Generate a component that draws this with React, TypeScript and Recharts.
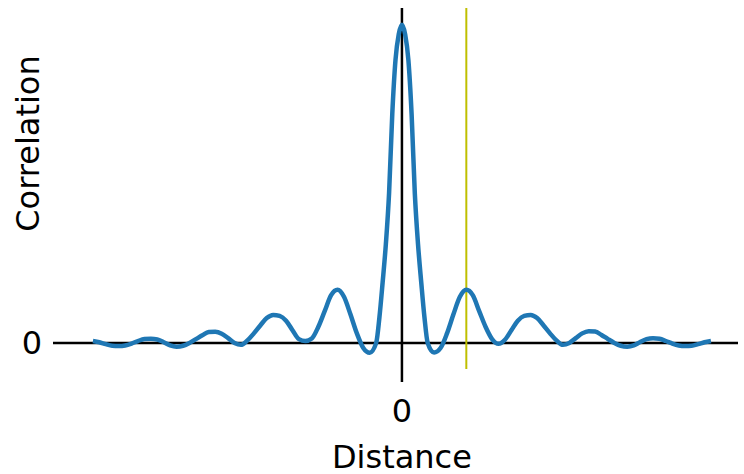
import { LineChart, Line, XAxis, YAxis, ReferenceLine } from "recharts";

// distance from the centre, in samples
const distance = [
  -48, -47, -46, -45, -44, -43, -42, -41, -40, -39, -38, -37, -36, -35, -34, -33,
  -32, -31, -30, -29, -28, -27, -26, -25, -24, -23, -22, -21, -20, -19, -18, -17,
  -16, -15, -14, -13, -12, -11, -10, -9, -8, -7, -6, -5, -4, -3.5, -3, -2.5, -2,
  -1.5, -1, -0.5, 0, 0.5, 1, 1.5, 2, 2.5, 3, 3.5, 4, 5, 6, 7, 8, 9, 10, 11, 12, 13,
  14, 15, 16, 17, 18, 19, 20, 21, 22, 23, 24, 25, 26, 27, 28, 29, 30, 31, 32, 33,
  34, 35, 36, 37, 38, 39, 40, 41, 42, 43, 44, 45, 46, 47, 48,
];

const correlation = [
  0.006, 0.002, -0.004, -0.009, -0.01, -0.008, -0.002, 0.006, 0.012, 0.013, 0.011,
  0.002, -0.008, -0.012, -0.009, 0.0, 0.012, 0.024, 0.034, 0.035, 0.029, 0.015,
  0.0, -0.006, 0.008, 0.03, 0.055, 0.078, 0.088, 0.085, 0.07, 0.04, 0.012, 0.006,
  0.014, 0.05, 0.1, 0.15, 0.167, 0.145, 0.09, 0.03, -0.016, -0.031, 0.0, 0.08,
  0.19, 0.31, 0.47, 0.72, 0.89, 0.97, 1.0, 0.97, 0.89, 0.72, 0.47, 0.31, 0.19,
  0.08, 0.0, -0.03, -0.016, 0.03, 0.09, 0.145, 0.167, 0.15, 0.1, 0.05, 0.012,
  -0.003, 0.01, 0.04, 0.07, 0.085, 0.088, 0.078, 0.055, 0.03, 0.008, -0.006, 0.0,
  0.015, 0.03, 0.037, 0.036, 0.025, 0.012, 0.0, -0.009, -0.012, -0.008, 0.003,
  0.012, 0.015, 0.013, 0.006, -0.002, -0.008, -0.01, -0.009, -0.004, 0.002, 0.006,
];

const markerDistance = 10;
const xTicks = [0];
const yTicks = [0];
const xDomain: [number, number] = [-54.2, 52.2];
const yDomain: [number, number] = [-0.082, 1.053];

const data = distance.map((d, i) => ({ d, r: correlation[i] }));

const FONT = "'DejaVu Sans', sans-serif";
const FS = 32;

export default function App() {
  return (
    <div style={{ position: "absolute", left: 0, top: 0, background: "#fff" }}>
      <LineChart
        width={744}
        height={474}
        data={data}
        margin={{ top: 8, right: 6, bottom: 0, left: 0 }}
      >
        <XAxis
          dataKey="d"
          type="number"
          domain={xDomain}
          allowDataOverflow
          ticks={xTicks}
          axisLine={false}
          tickSize={13}
          tickMargin={17}
          tickLine={{ stroke: "#000", strokeWidth: 2.5 }}
          tick={{ fill: "#000", fontSize: FS, fontFamily: FONT }}
          height={105}
          label={{
            value: "Distance",
            position: "insideBottom",
            content: ({ viewBox }: any) => {
              // centre the title under x = 0, like the reference
              const cx =
                viewBox.x +
                (viewBox.width * (0 - xDomain[0])) / (xDomain[1] - xDomain[0]);
              return (
                <text
                  x={cx}
                  y={viewBox.y + viewBox.height - 6}
                  textAnchor="middle"
                  fill="#000"
                  fontSize={FS}
                  fontFamily={FONT}
                >
                  Distance
                </text>
              );
            },
          }}
        />
        <YAxis
          type="number"
          domain={yDomain}
          allowDataOverflow
          ticks={yTicks}
          axisLine={false}
          tickLine={false}
          tickMargin={5}
          width={53}
          tick={{ fill: "#000", fontSize: FS, fontFamily: FONT }}
          label={{
            value: "Correlation",
            position: "insideLeft",
            content: ({ viewBox }: any) => {
              const x = viewBox.x + 28;
              const y = viewBox.y + viewBox.height / 2 - 45;
              return (
                <text
                  x={x}
                  y={y}
                  transform={`rotate(-90, ${x}, ${y})`}
                  textAnchor="middle"
                  dominantBaseline="central"
                  fill="#000"
                  fontSize={FS}
                  fontFamily={FONT}
                >
                  Correlation
                </text>
              );
            },
          }}
        />
        <ReferenceLine y={0} stroke="#000" strokeWidth={2.5} />
        <ReferenceLine x={0} stroke="#000" strokeWidth={2.5} />
        <ReferenceLine x={markerDistance} stroke="#bfbf00" strokeWidth={2} />
        <Line
          type="monotone"
          dataKey="r"
          stroke="#1f77b4"
          strokeWidth={4.5}
          dot={false}
          isAnimationActive={false}
        />
      </LineChart>
    </div>
  );
}
